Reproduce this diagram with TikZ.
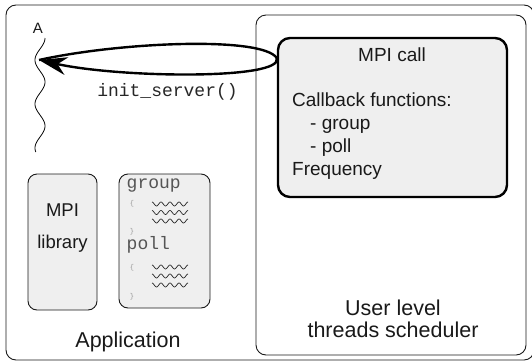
\documentclass[tikz,border=0pt]{standalone}
\usepackage{fontspec}
\setmainfont{Liberation Sans}
\setmonofont{Liberation Mono}
\usetikzlibrary{arrows.meta}
\definecolor{boxfill}{HTML}{EFEFEF}
\definecolor{codegray}{HTML}{555555}
\definecolor{bracegray}{HTML}{999999}
\begin{document}
\begin{tikzpicture}[x=1pt,y=-1pt,
  panel/.style={draw=black!90, line width=0.9pt, rounded corners=10pt},
  smallbox/.style={draw=black!90, line width=0.9pt, rounded corners=9pt, fill=boxfill, inner sep=0pt},
  callbox/.style={draw=black, line width=2.4pt, rounded corners=12pt, fill=boxfill, inner sep=0pt},
  txt/.style={inner sep=0pt, anchor=base, text=black!90},
  code/.style={inner sep=0pt, anchor=base west, font=\fontsize{18}{18}\selectfont\ttfamily, text=codegray},
  brace/.style={inner sep=0pt, font=\fontsize{7}{7}\selectfont\ttfamily, text=bracegray},
  squiggle/.style={line width=0.7pt, black!85},
  callarrow/.style={line width=2.4pt, -{Stealth[length=28pt,width=18pt,inset=9pt]}}
]
\useasboundingbox (0,0) rectangle (532,362);
\clip (0,0) rectangle (532,362);

% application area and scheduler area
\draw[panel] (6,5) rectangle (534,360);
\draw[panel] (256,15) rectangle (526,355);

% scheduler configuration box
\node[callbox, minimum width=229pt, minimum height=159pt] (call) at (392.5,117.5) {};
\node[txt, font=\fontsize{19}{19}\selectfont] (calltitle) at (392,61) {MPI call};
% the base anchor of a multi-line node sits on its last line
\node[txt, anchor=base west, font=\fontsize{19}{23}\selectfont, align=left] (callbody) at (292,175)
  {Callback functions:\\\hspace*{18pt}- group\\\hspace*{18pt}- poll\\Frequency};

% MPI library box
\node[smallbox, minimum width=69pt, minimum height=136pt] (mpilib) at (62.5,242) {};
\node[txt, font=\fontsize{18.5}{18.5}\selectfont] (mpiword) at (62.5,216) {MPI};
\node[txt, font=\fontsize{18.5}{18.5}\selectfont] (libword) at (62.5,248) {library};

% callback code box
\node[smallbox, minimum width=91pt, minimum height=134pt] (cbcode) at (164.5,241) {};
\node[code] (groupname) at (126.5,188) {group};
\node[brace] (gopen) at (132,204) {\{};
\node[brace] (gclose) at (132,232) {\}};
\node[code] (pollname) at (126.5,249) {poll};
\node[brace] (popen) at (132,268) {\{};
\node[brace] (pclose) at (132,297) {\}};
\foreach \yy in {204,212.5,221,267,276,285}{
  \draw[squiggle] plot[domain=0:36,samples=60,smooth] ({152+\x},{\yy-2*sin(\x*40+90)});
}

% labels
\node[txt, font=\fontsize{21.5}{21.5}\selectfont] (applabel) at (128,347) {Application};
\node[txt, font=\fontsize{21.5}{21.5}\selectfont] (schedlabel1) at (393,315) {User level};
\node[txt, font=\fontsize{21.5}{21.5}\selectfont] (schedlabel2) at (393,337) {threads scheduler};

% thread A
\node[txt, font=\fontsize{15}{15}\selectfont] (threadA) at (38,33) {A};
\draw[line width=0.8pt] plot[domain=38:152,samples=120,smooth] ({40-5*sin((\x-49)*8.1818)},\x);

% init_server() round trip
\coordinate (tip) at (39,60);
\coordinate (turn) at (call.west |- 0,58);
\draw[line width=2.4pt] (tip) .. controls (120,42) and (262,36) .. (turn);
\draw[callarrow] (turn) .. controls (284,80) and (120,78) .. (tip);
\node[txt, font=\fontsize{18}{18}\selectfont\ttfamily, text=black!85] (initlabel) at (167.5,96) {init\_server()};
\end{tikzpicture}
\end{document}
